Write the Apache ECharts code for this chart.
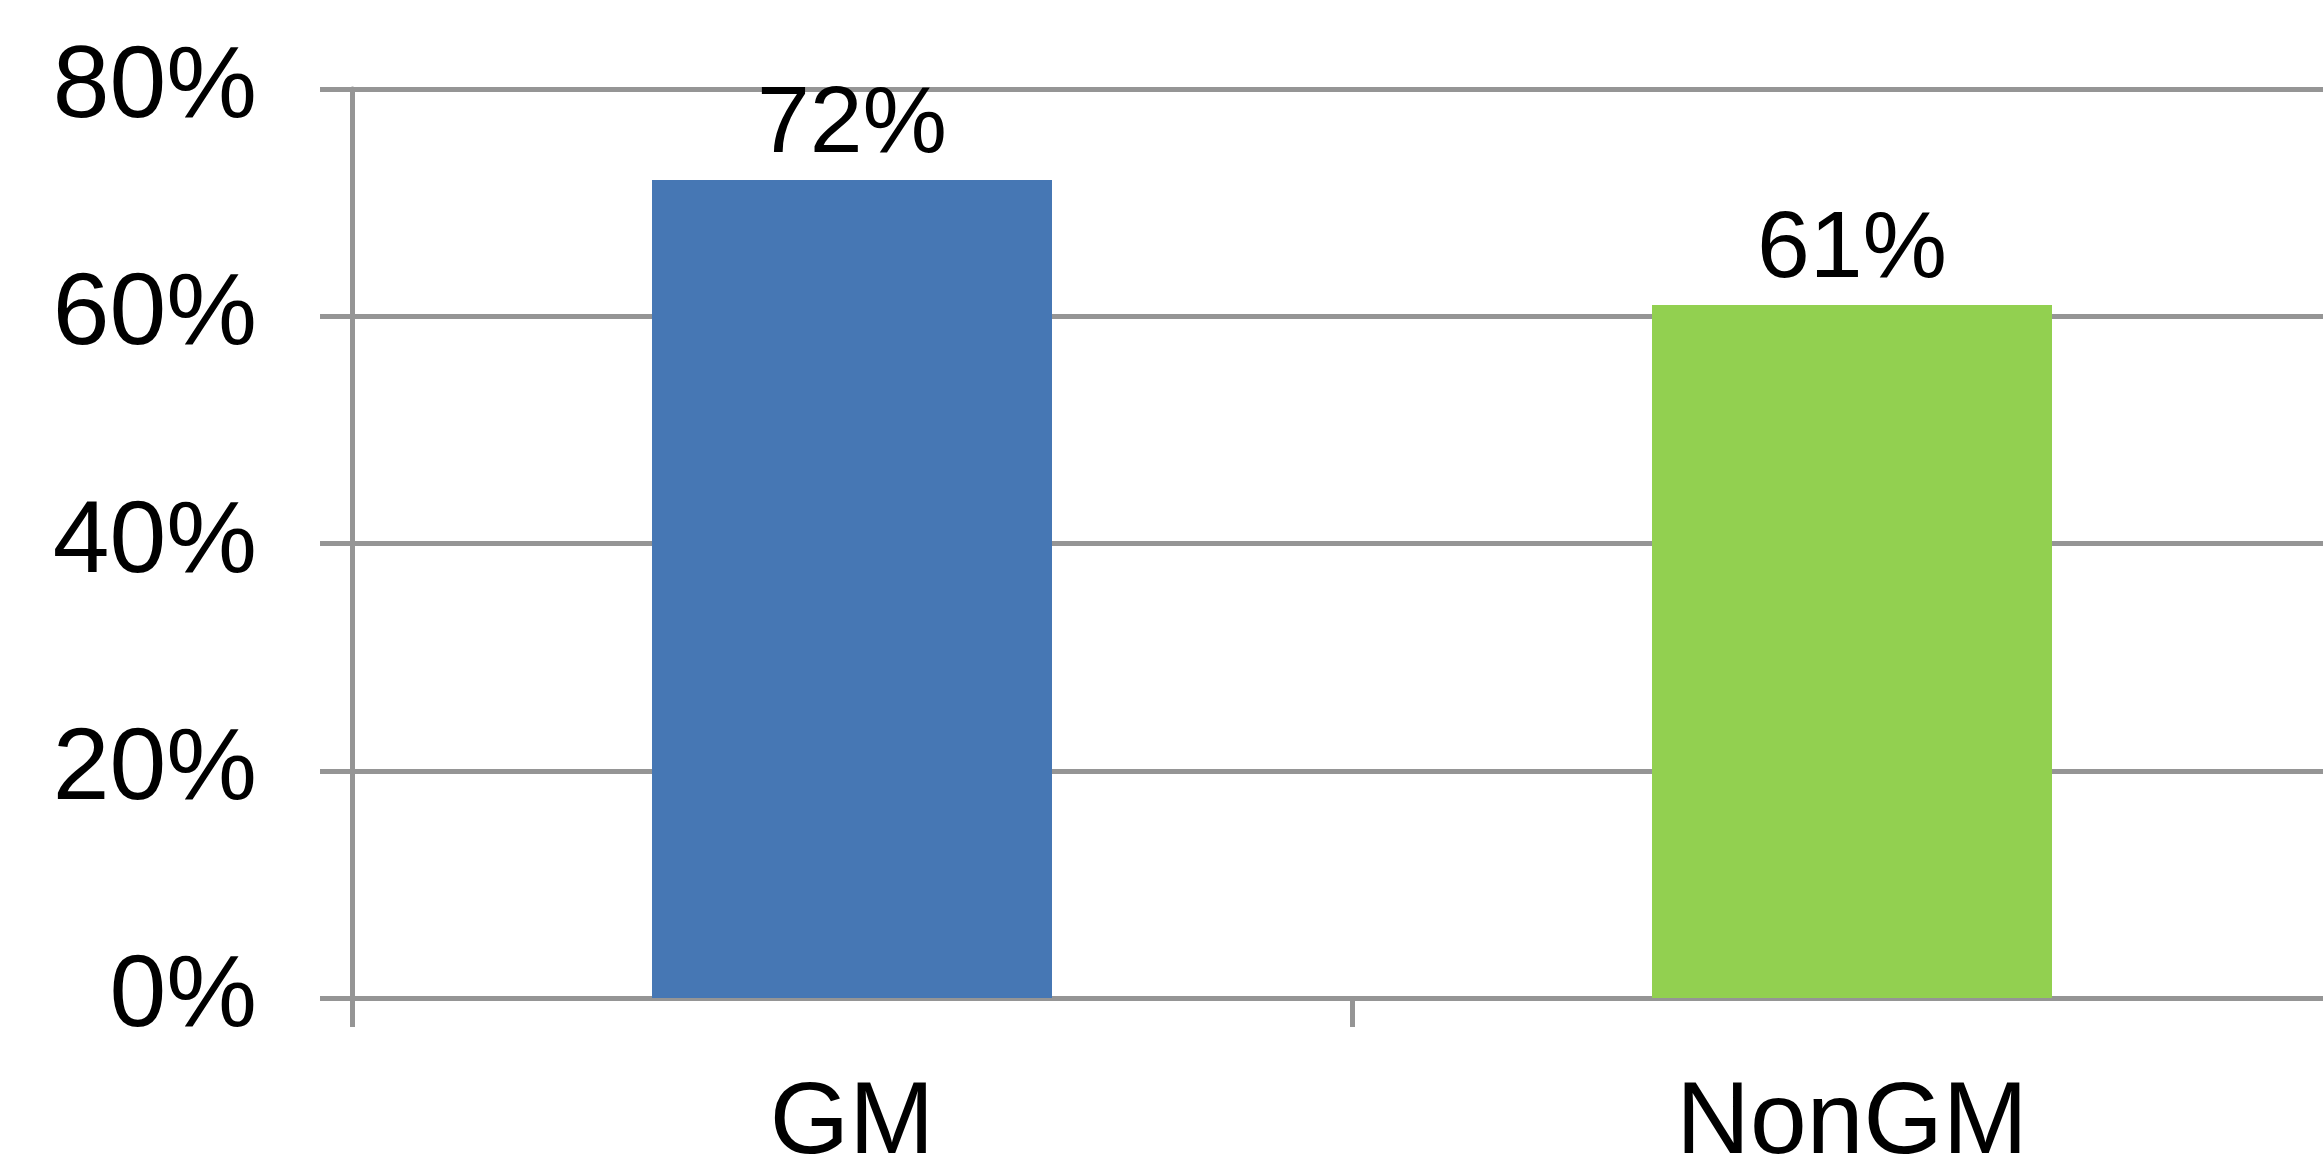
<!DOCTYPE html>
<html>
<head>
<meta charset="utf-8">
<script src="https://cdn.jsdelivr.net/npm/echarts@6/dist/echarts.min.js"></script>
<style>
  html, body { margin: 0; padding: 0; background: #fff; }
  #chart { width: 2323px; height: 1162px; }
</style>
</head>
<body>
<div id="chart"></div>
<script>
  var categories = ['GM', 'NonGM'];
  var values = [72, 61];
  var barColors = ['#4677b4', '#92d050'];
  var yTicks = [0, 20, 40, 60, 80];

  var gray = '#959595';
  var font = '"Liberation Sans", Arial, sans-serif';

  var myChart = echarts.init(document.getElementById('chart'));
  myChart.setOption({
    animation: false,
    backgroundColor: '#ffffff',
    // plot runs past the right edge, like the cropped original
    grid: { left: 352, top: 89, width: 2000, height: 909, outerBoundsMode: 'none' },
    xAxis: {
      type: 'category',
      data: categories,
      axisLine: { lineStyle: { color: gray, width: 5 } },
      axisTick: { show: true, length: 29, lineStyle: { color: gray, width: 5 } },
      axisLabel: { margin: 76, color: '#000', fontSize: 102, fontFamily: font }
    },
    yAxis: {
      type: 'value',
      min: yTicks[0],
      max: yTicks[yTicks.length - 1],
      interval: 20,
      axisLine: { show: true, lineStyle: { color: gray, width: 5 } },
      axisTick: { show: true, length: 32, lineStyle: { color: gray, width: 5 } },
      splitLine: { lineStyle: { color: gray, width: 5 } },
      axisLabel: {
        margin: 95, color: '#000', fontSize: 102, fontFamily: font,
        formatter: function (v) { return v + '%'; }
      }
    },
    series: [{
      type: 'bar',
      barWidth: '40%',
      data: values.map(function (v, i) {
        return { value: v, itemStyle: { color: barColors[i] } };
      }),
      label: {
        show: true,
        position: 'top',
        distance: 7,
        color: '#000',
        fontSize: 95,
        fontFamily: font,
        formatter: function (p) { return p.value + '%'; }
      }
    }]
  });
</script>
</body>
</html>
